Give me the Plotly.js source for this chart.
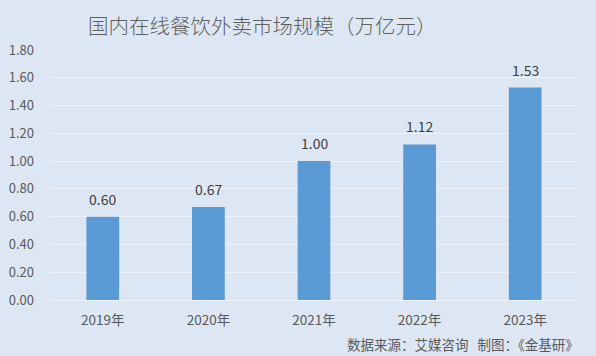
<!DOCTYPE html>
<html><head><meta charset="utf-8">
<script src="https://cdn.plot.ly/plotly-3.0.1.min.js"></script>
<style>html,body{margin:0;padding:0;background:#dde7f3;}#c{width:596px;height:356px;}</style>
</head><body><div id="c"></div>
<script>
const categories = ["2019年","2020年","2021年","2022年","2023年"];
const values = [0.60, 0.67, 1.00, 1.12, 1.53];
const valueLabels = ["0.60","0.67","1.00","1.12","1.53"];
const yTickVals = [0,0.2,0.4,0.6,0.8,1.0,1.2,1.4,1.6,1.8];
const yTickText = ["0.00","0.20","0.40","0.60","0.80","1.00","1.20","1.40","1.60","1.80"];
const titleText = "国内在线餐饮外卖市场规模（万亿元）";
const sourceText = "数据来源：艾媒咨询&nbsp;&nbsp;&nbsp;制图：《金基研》";

const font = '"Noto Sans CJK SC", "Noto Sans", sans-serif';
const trace = {
  type: 'bar', x: categories, y: values,
  marker: {color: '#5b9bd5'},
  hoverinfo: 'none'
};
const annotations = categories.map((c, i) => ({
  x: c, y: values[i], text: valueLabels[i], showarrow: false,
  yanchor: 'bottom', yshift: 6, font: {family: font, size: 14, color: '#404040'}
}));
annotations.push({
  xref: 'paper', yref: 'paper', x: 1.005, y: -0.176, xanchor: 'right', yanchor: 'middle',
  text: sourceText, showarrow: false, font: {family: font, size: 13.5, color: '#595959'}
});
const layout = {
  width: 596, height: 356,
  margin: {l: 50, r: 18, t: 50, b: 56},
  paper_bgcolor: '#dde7f3', plot_bgcolor: '#dde7f3',
  bargap: 0.69,
  showlegend: false,
  title: {text: titleText, x: 0.44, xanchor: 'center', y: 0.925, yanchor: 'middle',
          font: {family: font, size: 20.5, color: '#5f5f5f', weight: 300}},
  xaxis: {type: 'category', showgrid: false, zeroline: false, showline: false,
          ticks: '', tickfont: {family: font, size: 13.5, color: '#595959'}, ticklabelstandoff: 10},
  yaxis: {range: [0, 1.8], tickvals: yTickVals, ticktext: yTickText,
          showgrid: true, gridcolor: '#eef2f8', gridwidth: 1, zeroline: true, zerolinecolor: '#eef2f8',
          ticks: '', tickfont: {family: font, size: 13, color: '#595959'}, ticklabelstandoff: 15},
  annotations: annotations
};
Plotly.newPlot('c', [trace], layout, {displayModeBar: false, staticPlot: true});
</script></body></html>
